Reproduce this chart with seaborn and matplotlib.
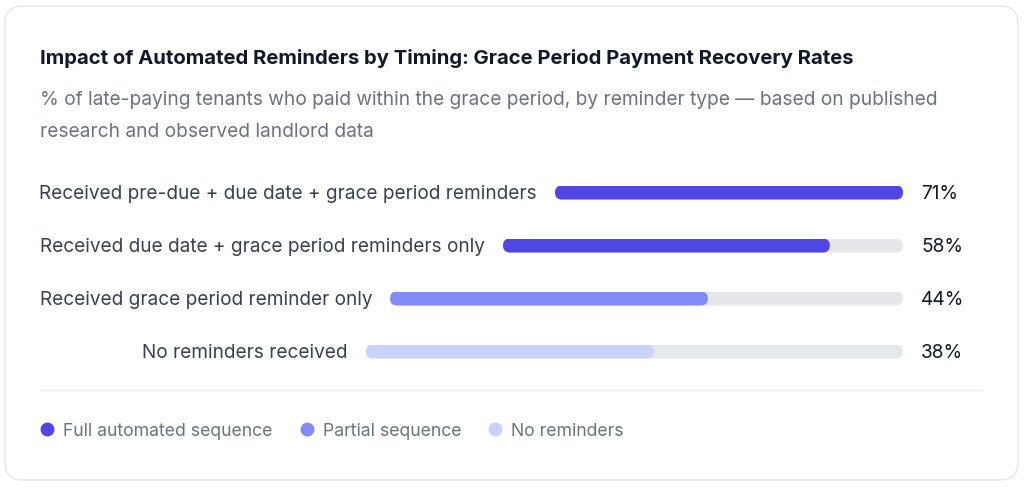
import pandas as pd
import seaborn as sns
import matplotlib.pyplot as plt
from matplotlib.patches import FancyBboxPatch
from matplotlib.lines import Line2D

# data
labels = ["Received pre-due + due date + grace period reminders",
          "Received due date + grace period reminders only",
          "Received grace period reminder only",
          "No reminders received"]
rates = [71, 58, 44, 38]
groups = ["Full automated sequence", "Full automated sequence",
          "Partial sequence", "No reminders"]
group_names = ["Full automated sequence", "Partial sequence", "No reminders"]
group_colors = ["#4F46E5", "#818CF8", "#C7D2FE"]

title = "Impact of Automated Reminders by Timing: Grace Period Payment Recovery Rates"
subtitle_lines = ["% of late-paying tenants who paid within the grace period, by reminder type \u2014 based on published",
                  "research and observed landlord data"]

sns.set_style("white")
plt.rcParams['font.family'] = ['Inter', 'DejaVu Sans']

W, H = 1024, 487
fig = plt.figure(figsize=(W / 100, H / 100), dpi=100)

# card background, in pixel coords
bg = fig.add_axes([0, 0, 1, 1])
bg.set_xlim(0, W)
bg.set_ylim(H, 0)
bg.axis("off")
bg.add_patch(FancyBboxPatch((5, 6), 1013, 474, boxstyle="round,pad=0,rounding_size=18",
                            fc="white", ec="#E5E7EB", lw=1))
bg.plot([40, 982], [390, 390], color="#EEEEEE", lw=1)

fig.text(40 / W, 1 - 59 / H, title, fontsize=14.6, fontweight="bold", color="#111827", va="center")
for k, line in enumerate(subtitle_lines):
    fig.text(40 / W, 1 - (100 + 32 * k) / H, line, fontsize=13.8, color="#6B7280", va="center")

# layout of rows (pixels)
bar_left = [555, 503, 390, 366]
bar_right = 903
row_y = [192, 245, 298, 351]
bar_h = 14
vmax = max(rates)

color_map = dict(zip(group_names, group_colors))


def round_patches(ax, w_px):
    # turn seaborn's rectangles into pills
    r_x = (bar_h / 2) * vmax / w_px
    asp = (1.0 / bar_h) / (vmax / w_px)
    for p in list(ax.patches):
        x, y = p.get_x(), p.get_y()
        w, h = p.get_width(), p.get_height()
        fc = p.get_facecolor()
        z = p.get_zorder()
        p.remove()
        ax.add_patch(FancyBboxPatch((x, y), w, h,
                                    boxstyle=f"round,pad=0,rounding_size={r_x}",
                                    mutation_aspect=asp, fc=fc, ec="none", zorder=z))


for i, lab in enumerate(labels):
    left = bar_left[i]
    w_px = bar_right - left
    ax = fig.add_axes([left / W, 1 - (row_y[i] + 0.5 + bar_h / 2) / H, w_px / W, bar_h / H])
    df = pd.DataFrame({"row": [lab], "track": [vmax], "rate": [rates[i]]})
    sns.barplot(data=df, x="track", y="row", color="#E5E7EB", width=1.0, ax=ax,
                saturation=1, orient="h")
    sns.barplot(data=df, x="rate", y="row", color=color_map[groups[i]], width=1.0, ax=ax,
                saturation=1, orient="h")
    ax.set_xlim(0, vmax)
    ax.set_ylim(0.5, -0.5)
    round_patches(ax, w_px)
    ax.axis("off")
    fig.text((left - 18) / W, 1 - (row_y[i] + 2) / H, lab, fontsize=13.7, color="#374151",
             ha="right", va="center")
    fig.text(921 / W, 1 - (row_y[i] + 2) / H, f"{rates[i]}%", fontsize=13.7, color="#111827",
             ha="left", va="center")

handles = [Line2D([], [], marker="o", linestyle="none", markersize=10,
                  markerfacecolor=c, markeredgecolor="none") for c in group_colors]
fig.legend(handles, group_names, loc="center left", bbox_to_anchor=(21 / W, 1 - 431 / H),
           ncol=3, frameon=False, fontsize=12.7, labelcolor="#6B7280", handletextpad=0.3,
           columnspacing=1.33, handlelength=1.2)

fig.savefig("out.png", dpi=100)
